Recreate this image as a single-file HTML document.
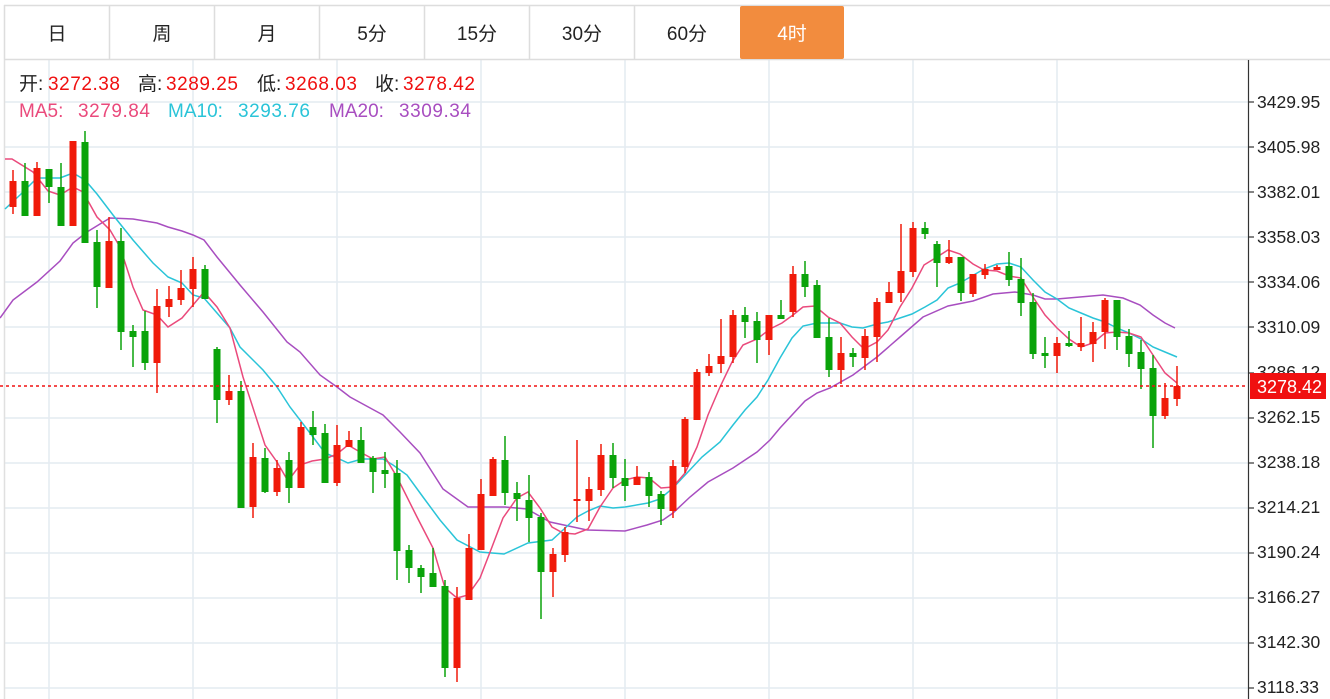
<!DOCTYPE html>
<html><head><meta charset="utf-8">
<style>
html,body{margin:0;padding:0;background:#fff;width:1330px;height:699px;overflow:hidden;font-family:"Liberation Sans","Noto Sans CJK SC",sans-serif;}
svg{position:absolute;left:0;top:0;}
</style></head><body>
<svg width="1330" height="699" viewBox="0 0 1330 699" xmlns="http://www.w3.org/2000/svg" font-family="Liberation Sans, Noto Sans CJK SC, sans-serif">
<g id="grid" stroke="#e4ebf1" stroke-width="1.5"></g>
<line x1="4.5" y1="59" x2="4.5" y2="699" stroke="#e0e0e0" stroke-width="1.5"/>
<line x1="4" y1="5.5" x2="1330" y2="5.5" stroke="#dddddd" stroke-width="1.5"/>
<line x1="4" y1="59.5" x2="1330" y2="59.5" stroke="#dddddd" stroke-width="1.5"/>
<g stroke="#dddddd" stroke-width="1.5">
<line x1="4.5" y1="5" x2="4.5" y2="59"/><line x1="109.5" y1="5" x2="109.5" y2="59"/><line x1="214.5" y1="5" x2="214.5" y2="59"/><line x1="319.5" y1="5" x2="319.5" y2="59"/><line x1="424.5" y1="5" x2="424.5" y2="59"/><line x1="529.5" y1="5" x2="529.5" y2="59"/><line x1="634.5" y1="5" x2="634.5" y2="59"/>
</g>
<rect x="740" y="6" width="104" height="53" rx="2" fill="#f28c3e"/>
<g font-size="19" fill="#222" text-anchor="middle">
<text x="57" y="40">日</text><text x="162" y="40">周</text><text x="267" y="40">月</text><text x="372" y="40">5分</text><text x="477" y="40">15分</text><text x="582" y="40">30分</text><text x="687" y="40">60分</text><text x="792" y="40" fill="#fff">4时</text>
</g>
<g id="ma" fill="none" stroke-width="1.5"></g>
<g id="candles"></g>
<line x1="0" y1="386" x2="1248" y2="386" stroke="#f01010" stroke-width="1.5" stroke-dasharray="3,3"/>
<g font-size="19">
<text x="19" y="90" fill="#222">开:</text><text x="48" y="90" fill="#f01010" textLength="72">3272.38</text>
<text x="138" y="90" fill="#222">高:</text><text x="166" y="90" fill="#f01010" textLength="72">3289.25</text>
<text x="257" y="90" fill="#222">低:</text><text x="285" y="90" fill="#f01010" textLength="72">3268.03</text>
<text x="375" y="90" fill="#222">收:</text><text x="403" y="90" fill="#f01010" textLength="72">3278.42</text>
<text x="19" y="117" fill="#ea4a7c">MA5:</text><text x="78" y="117" fill="#ea4a7c" textLength="72">3279.84</text>
<text x="168" y="117" fill="#2ac4d8">MA10:</text><text x="238" y="117" fill="#2ac4d8" textLength="72">3293.76</text>
<text x="329" y="117" fill="#a84ec0">MA20:</text><text x="399" y="117" fill="#a84ec0" textLength="72">3309.34</text>
</g>
<line x1="1248.5" y1="60" x2="1248.5" y2="699" stroke="#333" stroke-width="1.2"/>
<g id="ticks" stroke="#333" stroke-width="1.2"></g>
<g font-size="17.5" fill="#222">
<text x="1257" y="108">3429.95</text><text x="1257" y="153">3405.98</text><text x="1257" y="198">3382.01</text><text x="1257" y="243">3358.03</text><text x="1257" y="288">3334.06</text><text x="1257" y="333">3310.09</text><text x="1257" y="378">3286.12</text><text x="1257" y="423">3262.15</text><text x="1257" y="468">3238.18</text><text x="1257" y="513">3214.21</text><text x="1257" y="558">3190.24</text><text x="1257" y="603">3166.27</text><text x="1257" y="648">3142.30</text><text x="1257" y="693">3118.33</text>
</g>
<rect x="1250" y="373" width="76" height="26" fill="#f01010"/>
<text x="1257" y="393" font-size="18" fill="#fff">3278.42</text>
</svg>
<script>
var NS="http://www.w3.org/2000/svg";
function el(p,t,a){var e=document.createElementNS(NS,t);for(var k in a)e.setAttribute(k,a[k]);p.appendChild(e);return e;}
var gy=[102,147,192,237,282,327,373,418,463,508,553,598,643,688];
var g=document.getElementById('grid'),tk=document.getElementById('ticks');
gy.forEach(function(y){el(g,'line',{x1:4,y1:y,x2:1248,y2:y});el(tk,'line',{x1:1248,y1:y,x2:1254,y2:y});});
[49,193,337,481,625,769,913,1057].forEach(function(x){el(g,'line',{x1:x,y1:60,x2:x,y2:699});});
var C=[[13,181,207,170,214,'r'],[25,181,216,163,216,'g'],[37,168,216,162,216,'r'],[49,169,187,169,203,'g'],[61,187,226,163,226,'g'],[73,141,226,141,226,'r'],[85,142,243,131,243,'g'],[97,242,287,230,308,'g'],[109,241,288,217,288,'r'],[121,241,332,228,350,'g'],[133,331,337,325,367,'g'],[145,331,363,311,370,'g'],[157,306,363,289,393,'r'],[169,299,307,286,317,'r'],[181,288,300,270,305,'r'],[193,269,289,257,307,'r'],[205,269,299,265,299,'g'],[217,349,400,347,423,'g'],[229,391,400,375,405,'r'],[241,391,508,381,508,'g'],[253,457,507,443,518,'r'],[265,458,492,448,493,'g'],[277,468,492,460,496,'r'],[289,460,488,452,503,'g'],[301,427,488,422,488,'r'],[313,427,435,411,445,'g'],[325,433,483,424,483,'g'],[337,445,483,425,486,'r'],[349,440,447,431,447,'r'],[361,440,463,427,463,'g'],[373,458,472,456,493,'g'],[385,470,474,452,488,'g'],[397,473,551,460,580,'g'],[409,550,568,545,583,'g'],[421,568,577,565,593,'g'],[433,573,587,548,587,'g'],[445,586,668,580,677,'g'],[457,598,668,587,682,'r'],[469,548,600,534,600,'r'],[481,494,550,479,550,'r'],[493,459,496,457,496,'r'],[505,460,493,436,505,'g'],[517,493,499,482,521,'g'],[529,500,518,475,542,'g'],[541,517,572,513,619,'g'],[553,554,572,548,597,'r'],[565,532,555,527,562,'r'],[577,499,501,440,522,'r'],[589,489,501,477,521,'r'],[601,455,490,444,496,'r'],[613,455,478,443,488,'g'],[625,478,486,459,501,'g'],[637,477,485,466,485,'r'],[649,477,496,472,507,'g'],[661,494,509,491,525,'g'],[673,466,511,460,518,'r'],[685,419,467,417,473,'r'],[697,372,420,369,420,'r'],[709,366,373,354,376,'r'],[721,356,364,319,373,'r'],[733,315,357,310,363,'r'],[745,315,322,307,338,'g'],[757,321,340,312,363,'g'],[769,315,340,315,355,'r'],[781,315,319,300,319,'g'],[793,274,312,266,317,'r'],[805,274,287,261,297,'g'],[817,285,338,280,338,'g'],[829,337,370,318,377,'g'],[841,353,370,337,384,'r'],[853,353,357,348,367,'g'],[865,336,358,329,370,'r'],[877,302,337,298,362,'r'],[889,292,303,282,303,'r'],[901,271,293,224,302,'r'],[913,228,272,222,277,'r'],[925,228,234,222,239,'g'],[937,244,263,241,287,'g'],[949,257,263,240,264,'r'],[961,257,293,257,301,'g'],[973,274,294,274,297,'r'],[985,269,275,264,279,'r'],[997,267,270,265,270,'r'],[1009,266,280,252,286,'g'],[1021,279,303,258,316,'g'],[1033,302,354,293,359,'g'],[1045,353,356,337,368,'g'],[1057,343,356,337,373,'r'],[1069,343,346,331,347,'g'],[1081,343,347,317,351,'r'],[1093,332,344,322,362,'r'],[1105,300,332,298,349,'r'],[1117,300,337,300,350,'g'],[1129,336,354,329,367,'g'],[1141,352,369,340,389,'g'],[1153,368,416,355,448,'g'],[1165,398,416,383,419,'r'],[1177,386,399,366,406,'r']];
var cg=document.getElementById('candles');
C.forEach(function(c){var col=c[5]=='r'?'#f01a0a':'#0aa30a';
el(cg,'line',{x1:c[0],y1:c[3],x2:c[0],y2:c[4],stroke:col,'stroke-width':1.5});
el(cg,'rect',{x:c[0]-3.5,y:c[1],width:7,height:Math.max(2,c[2]-c[1]),fill:col});});
var ma5="5,159 12,159 33,172 48,191 60,195 73,187 83,192 97,217 110,230 120,247 133,287 143,310 157,315 168,327 182,318 193,305 204,292 217,307 230,328 243,377 265,445 277,462 288,481 300,465 312,461 325,459 337,454 348,445 360,452 373,459 385,457 397,477 417,517 433,548 445,588 457,598 468,595 480,578 492,547 503,518 517,498 528,492 540,508 552,527 563,533 575,534 588,529 600,507 613,488 625,480 637,477 649,478 661,488 673,487 685,473 697,447 708,415 720,387 732,362 743,345 757,339 770,329 782,323 793,315 803,307 815,306 828,317 840,323 852,337 864,349 877,342 888,330 900,307 912,288 924,265 937,257 948,250 960,254 973,264 984,270 997,271 1009,276 1021,278 1033,297 1045,315 1057,328 1069,339 1081,347 1093,343 1105,333 1117,332 1129,333 1141,337 1153,355 1165,373 1177,383";
var ma10="5,209 20,195 37,178 60,178 73,173 85,180 97,194 113,215 133,240 153,263 168,277 182,283 193,295 204,298 217,313 230,328 240,347 263,370 277,387 290,407 310,433 325,453 337,458 348,463 362,459 383,459 393,465 407,475 423,497 440,520 457,540 480,552 504,554 528,543 552,540 563,530 577,517 588,511 600,506 613,508 625,507 648,503 660,499 673,488 687,473 702,457 720,442 733,425 745,410 757,397 768,380 780,358 792,338 803,326 817,323 840,323 852,327 863,328 877,324 888,322 900,318 912,314 925,307 937,300 948,288 960,283 972,276 984,269 997,264 1009,263 1021,267 1033,280 1045,292 1057,299 1069,308 1081,313 1093,318 1105,322 1117,328 1129,333 1141,339 1153,347 1165,352 1177,357";
var ma20="0,318 13,300 37,282 60,261 73,243 87,232 100,224 110,218 133,219 157,223 168,227 182,231 193,235 204,240 217,257 240,285 263,312 287,342 300,352 320,375 337,387 350,397 383,415 400,432 420,453 443,489 468,507 505,507 527,509 550,522 587,530 625,531 647,525 663,520 673,513 690,497 708,482 733,468 757,452 770,440 780,428 792,415 805,401 817,393 830,388 853,375 877,357 900,337 923,317 948,306 973,301 993,294 1015,292 1033,295 1045,299 1057,299 1080,297 1103,295 1123,298 1140,305 1153,315 1165,323 1175,328";
var mg=document.getElementById('ma');
el(mg,'polyline',{points:ma20,stroke:'#a84ec0'});
el(mg,'polyline',{points:ma10,stroke:'#2ac4d8'});
el(mg,'polyline',{points:ma5,stroke:'#ea4a7c'});
</script>
</body></html>
